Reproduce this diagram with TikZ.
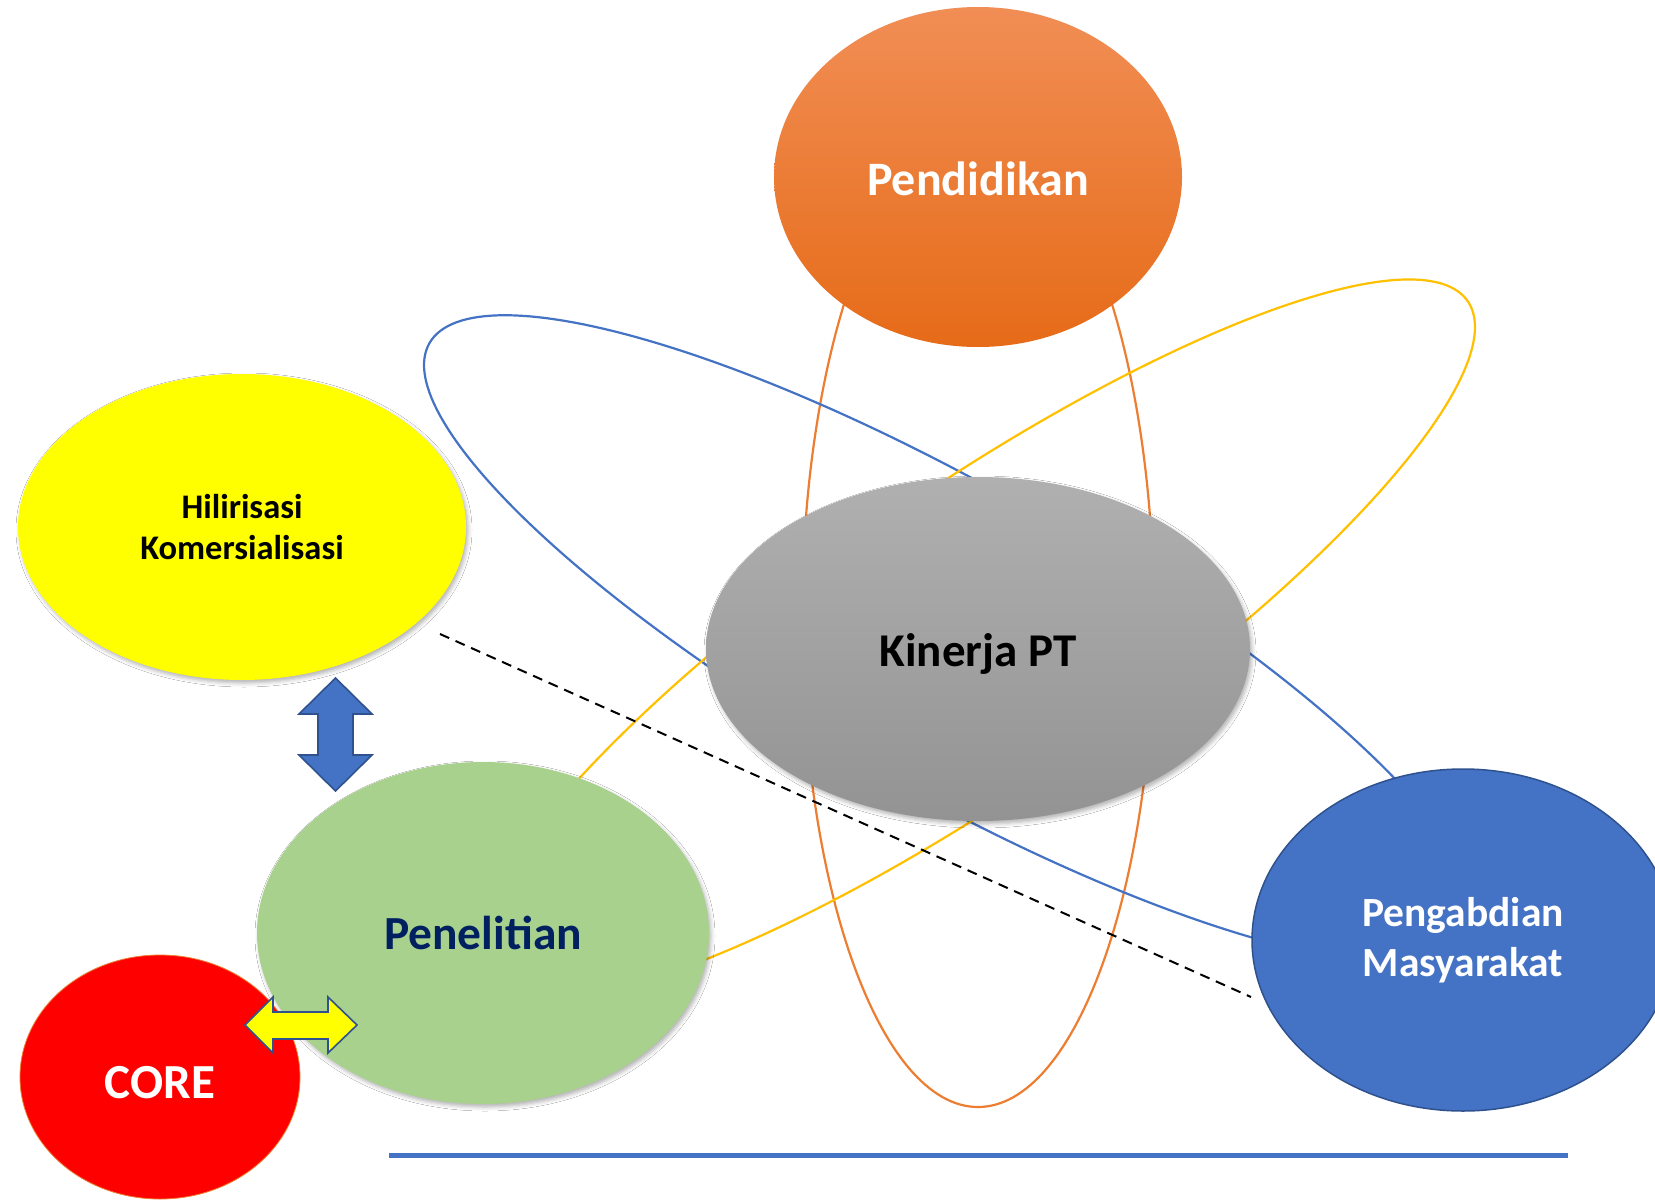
\documentclass[tikz,border=0pt]{standalone}
\usepackage{fontspec}
\setmainfont{Carlito}
\usetikzlibrary{shapes.geometric,shadows.blur}
\definecolor{obBlue}{HTML}{4472C4}
\definecolor{obYellow}{HTML}{FFC000}
\definecolor{obOrange}{HTML}{ED7D31}
\definecolor{navyText}{HTML}{002060}
\definecolor{darkBlue}{HTML}{2F528F}
\definecolor{greenFill}{HTML}{A9D18E}
\definecolor{pureYellow}{RGB}{255,255,0}
\definecolor{pureRed}{RGB}{255,0,0}
\definecolor{pendTop}{HTML}{F18E55}
\definecolor{pendBot}{HTML}{E66B18}
\definecolor{kinTop}{HTML}{B0B0B0}
\definecolor{kinBot}{HTML}{939393}
\newcommand{\lowertext}[2]{\raisebox{-#1}[\height][\depth]{#2}}
\tikzset{
  orbit/.style={line width=2.2pt},
  blob/.style={ellipse, inner sep=0pt, align=center, font=\bfseries},
  softshadow/.style={blur shadow={shadow xshift=2pt, shadow yshift=-3pt, shadow blur radius=4pt, shadow opacity=30}},
  arrowshape/.style={line width=1.6pt, draw=darkBlue, line join=miter},
}
\begin{document}
\begin{tikzpicture}[x=1pt,y=-1pt]
\path[use as bounding box] (0,0) rectangle (1655,1202);
\clip (0,0) rectangle (1655,1202);
\fill[white] (0,0) rectangle (1655,1202);

% orbits
\draw[orbit, obOrange] (978,620) ellipse [x radius=176, y radius=487];
\draw[orbit, obBlue] plot[domain=0:360, samples=240, variable=\t]
  ({950+526*cos(\t)}, {639+274*cos(\t)+172.5*sin(\t)}) -- cycle;
\draw[orbit, obYellow] plot[domain=0:360, samples=240, variable=\t]
  ({975+500*cos(\t)}, {640-313*cos(\t)+179*sin(\t)}) -- cycle;

% ellipses
\node[blob, minimum width=408pt, minimum height=340pt, top color=pendTop, bottom color=pendBot,
  text=white, font=\bfseries\fontsize{48}{56}\selectfont] (pend) at (978,177) {\lowertext{2pt}{Pendidikan}};
\node[blob, softshadow, minimum width=448pt, minimum height=306pt, fill=pureYellow,
  font=\bfseries\fontsize{34.5}{41}\selectfont] (hil) at (242,527) {Hilirisasi\\Komersialisasi};
\node[blob, softshadow, minimum width=544pt, minimum height=344pt, top color=kinTop, bottom color=kinBot,
  font=\bfseries\fontsize{47}{56}\selectfont] (kin) at (978,649) {\lowertext{5pt}{Kinerja PT}};
\node[blob, softshadow, minimum width=452pt, minimum height=342pt, fill=greenFill, text=navyText,
  font=\bfseries\fontsize{47.5}{56}\selectfont] (pen) at (483,933) {Penelitian};
\node[blob, minimum width=280pt, minimum height=244pt, fill=pureRed, draw=obOrange, line width=0.8pt, text=white,
  font=\bfseries\fontsize{49}{56}\selectfont] (core) at (160,1077) {\lowertext{6pt}{CORE}};
\node[blob, minimum width=422pt, minimum height=342pt, fill=obBlue, draw=darkBlue, line width=1.5pt, text=white,
  font=\bfseries\fontsize{41.5}{50}\selectfont] (peng) at (1463,940) {Pengabdian\\Masyarakat};

% dashed line
\coordinate (dA) at (440,634);
\coordinate (dB) at (1251,997);
\draw[line width=2pt, dash pattern=on 10pt off 7pt] (dA) -- (dB);

% bottom line
\coordinate (bA) at (389,1155);
\coordinate (bB) at (1568,1155);
\draw[obBlue, line width=5pt] (bA) -- (bB);

% up-down arrow
\filldraw[arrowshape, fill=obBlue] (335.5,678) -- (372,714) -- (353,714) -- (353,755) -- (372,755)
  -- (335.5,791) -- (299,755) -- (318,755) -- (318,714) -- (299,714) -- cycle;

% left-right arrow
\filldraw[arrowshape, fill=pureYellow] (245,1025) -- (273,997) -- (273,1012) -- (328,1012) -- (328,997)
  -- (357,1025) -- (328,1053) -- (328,1039) -- (273,1039) -- (273,1053) -- cycle;
\end{tikzpicture}
\end{document}
